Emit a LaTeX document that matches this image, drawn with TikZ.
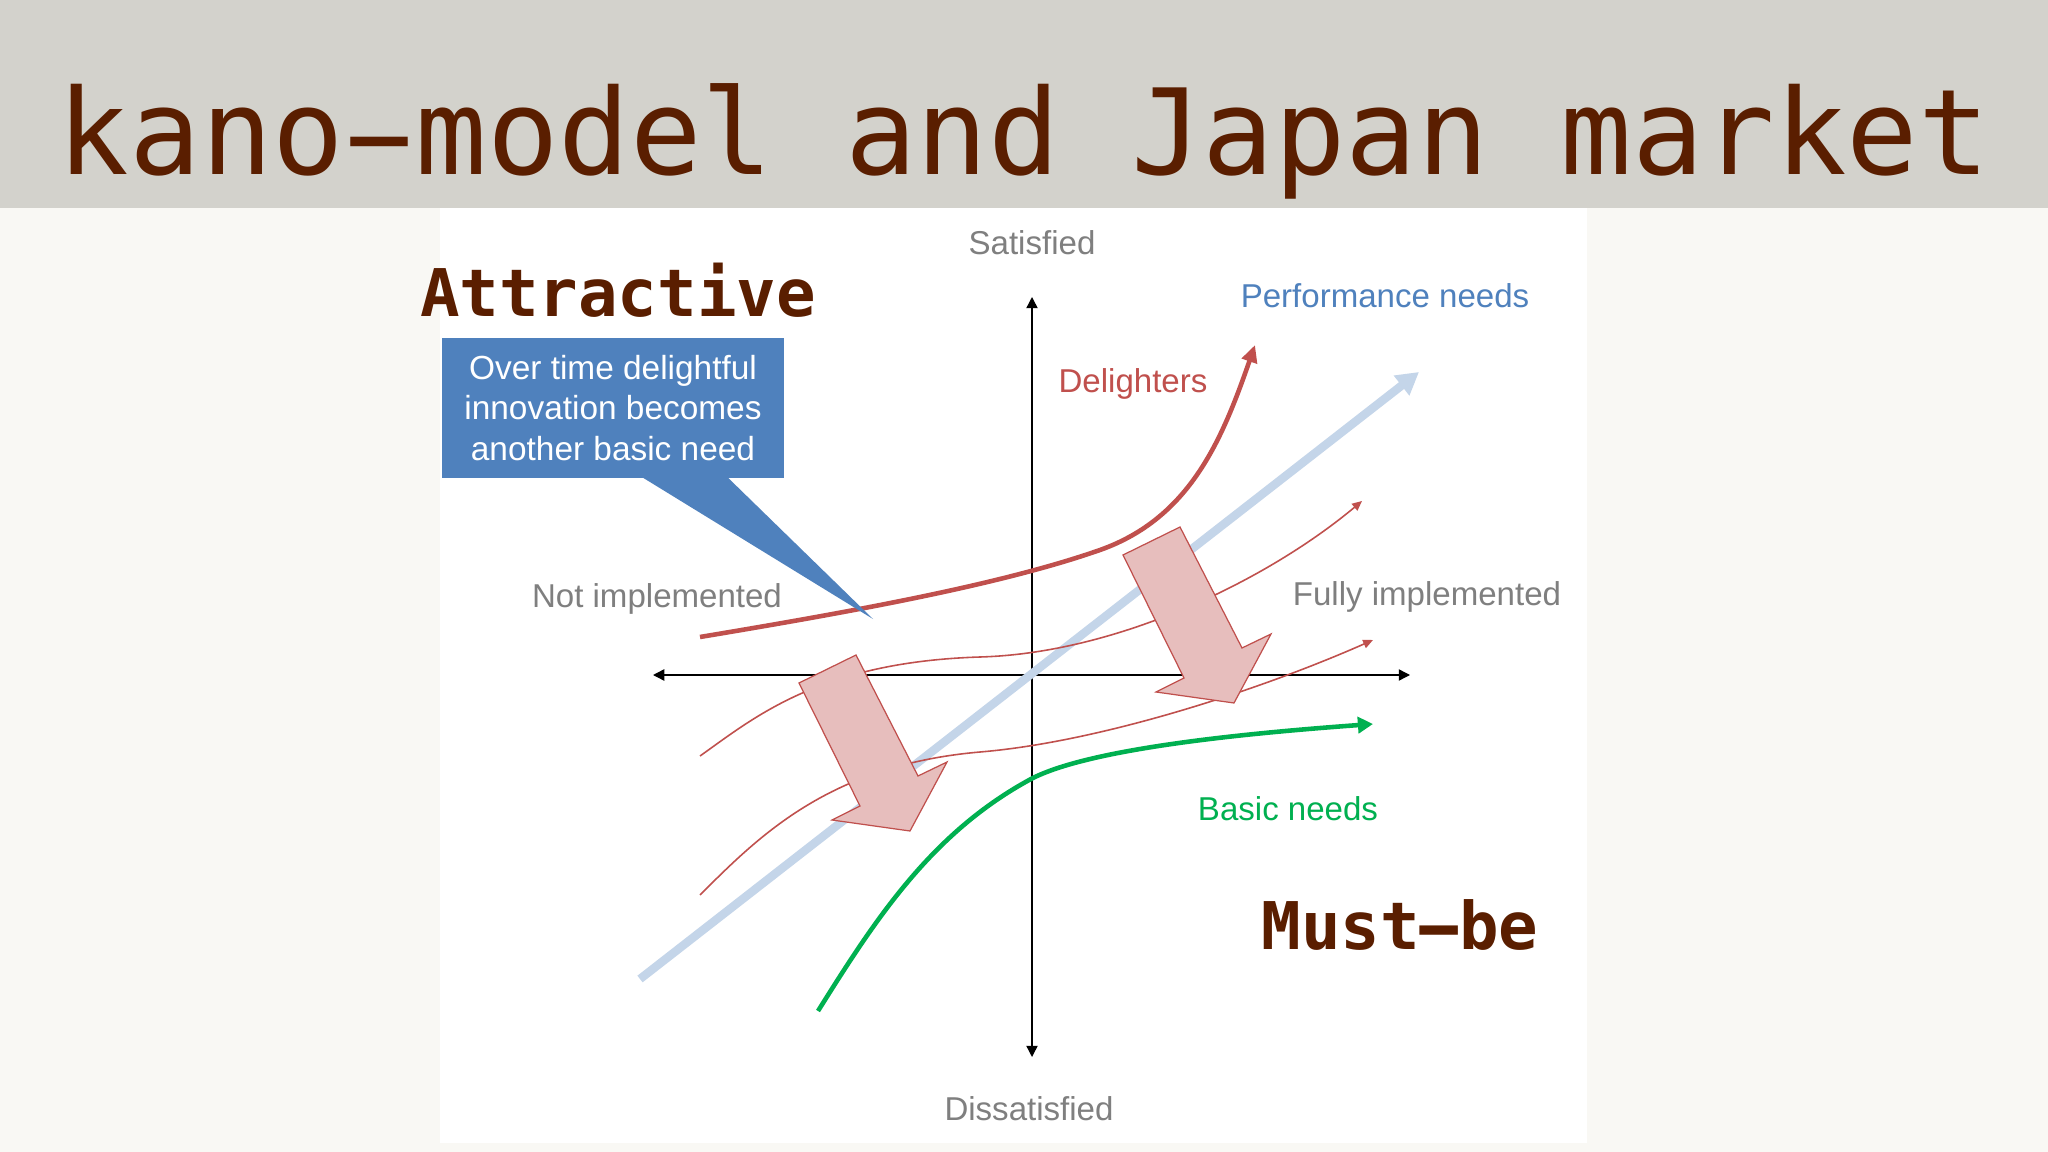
\documentclass[tikz,border=0pt]{standalone}
\usepackage{fontspec}
\usepackage{graphicx}
\setmainfont{Liberation Sans}
\newfontfamily\monofont{DejaVu Sans Mono}
\usetikzlibrary{arrows.meta,calc}
\definecolor{bandgray}{RGB}{211,210,204}
\definecolor{pagebg}{RGB}{249,248,244}
\definecolor{titlebrown}{RGB}{90,30,0}
\definecolor{cblue}{RGB}{79,129,189}
\definecolor{cred}{RGB}{192,80,77}
\definecolor{cgreen}{RGB}{0,176,80}
\definecolor{cgray}{RGB}{127,127,127}
\definecolor{perfblue}{RGB}{196,213,233}
\definecolor{pinkfill}{RGB}{231,190,189}
\newcommand{\longdash}{\makebox[0.602em][c]{\scalebox{1.9}[1]{-}}}
\begin{document}
\begin{tikzpicture}[x=0.01cm,y=-0.01cm,
  lab/.style={font=\fontsize{9.4}{11}\selectfont, text=cgray, inner sep=0, anchor=base},
  tag/.style={font=\monofont\bfseries\fontsize{18.7}{22}\selectfont, text=titlebrown, inner sep=0, anchor=base},
  axisline/.style={black, line width=0.4pt, {Triangle[length=3.2pt,width=3.2pt]}-{Triangle[length=3.2pt,width=3.2pt]}},
  thincurve/.style={cred, line width=0.45pt, -{Triangle[length=2.8pt,width=2.5pt]}},
  delight/.style={cred, line width=1.3pt, -{Triangle[length=4.9pt,width=4.4pt]}},
  basic/.style={cgreen, line width=1.3pt, -{Triangle[length=4.3pt,width=4.6pt]}},
  perf/.style={perfblue, line width=2.4pt, -{Triangle[length=6.3pt,width=6.8pt]}},
  pinkarrow/.style={fill=pinkfill, draw=cred, line width=0.35pt, line join=miter},
  callout/.style={fill=cblue, text=white, align=center, inner sep=0,
    minimum width=3.42cm, minimum height=1.40cm, font=\fontsize{9.5}{11.5}\selectfont}]
\useasboundingbox (0,0) rectangle (2048,1152);
% backgrounds
\fill[pagebg] (0,0) rectangle (2048,1152);
\fill[bandgray] (0,0) rectangle (2048,208);
\fill[white] (440,208) rectangle (1587,1143);
% title
\node[font=\monofont\fontsize{33.8}{40}\selectfont, text=titlebrown, inner sep=0, anchor=base] (title) at (1024,175) {kano\longdash model and Japan market};
% axes
\coordinate (xleft) at (653,675);
\coordinate (xright) at (1410,675);
\coordinate (ytop) at (1032,297);
\coordinate (ybot) at (1032,1057);
\draw[axisline] (xleft) -- (xright);
\draw[axisline] (ybot) -- (ytop);
% performance needs
\coordinate (pstart) at (640,979);
\coordinate (pend) at (1419,372);
\draw[perf] (pstart) -- (pend);
% thin intermediate curves
\coordinate (t1s) at (700,756);
\coordinate (t1m) at (980,657);
\coordinate (t1e) at (1362,501);
\draw[thincurve] (t1s) .. controls (755,717) and (820,662) .. (t1m)
                       .. controls (1120,653) and (1270,578) .. (t1e);
\coordinate (t2s) at (700,895);
\coordinate (t2m) at (980,752);
\coordinate (t2e) at (1373,640);
\draw[thincurve] (t2s) .. controls (760,835) and (830,765) .. (t2m)
                       .. controls (1100,742) and (1260,690) .. (t2e);
% basic needs
\coordinate (bs) at (818,1011);
\coordinate (bm) at (1031,779);
\coordinate (be) at (1373,724);
\draw[basic] (bs) .. controls (875,920) and (931,833) .. (bm)
                  .. controls (1090,748) and (1250,733) .. (be);
% delighters
\coordinate (ds) at (700,637);
\coordinate (dm) at (1100,550);
\coordinate (de) at (1255,345);
\draw[delight] (ds) .. controls (850,612) and (1000,585) .. (dm)
                    .. controls (1190,518) and (1222,440) .. (de);
% pink block arrows
\foreach \tx/\ty in {910/831,1234/703}{
  \filldraw[pinkarrow, shift={(\tx,\ty)}] (0,0) -- (-78,-11) -- (-50,-25) -- (-111,-148) -- (-54,-176) -- (8,-55) -- (37,-69) -- cycle;
}
% callout
\node[callout] (callout) at (613,408) {Over time delightful\\innovation becomes\\another basic need};
\coordinate (ctip) at (873,619);
\fill[cblue] ($(callout.south)+(30,-1)$) -- (ctip) -- ($(callout.south)+(115,-1)$) -- cycle;
% labels
\node[lab] (sat) at (1032,255) {Satisfied};
\node[lab] (dissat) at (1029,1120) {Dissatisfied};
\node[lab] (notimpl) at (657,607) {Not implemented};
\node[lab] (fullimpl) at (1427,606) {Fully implemented};
\node[lab, text=cblue] (perflab) at (1385,308) {Performance needs};
\node[lab, text=cred] (delab) at (1133,393) {Delighters};
\node[lab, text=cgreen] (baslab) at (1288,820) {Basic needs};
\node[tag] (attr) at (618,317) {Attractive};
\node[tag] (must) at (1400,949) {Must\longdash be};
\end{tikzpicture}
\end{document}
